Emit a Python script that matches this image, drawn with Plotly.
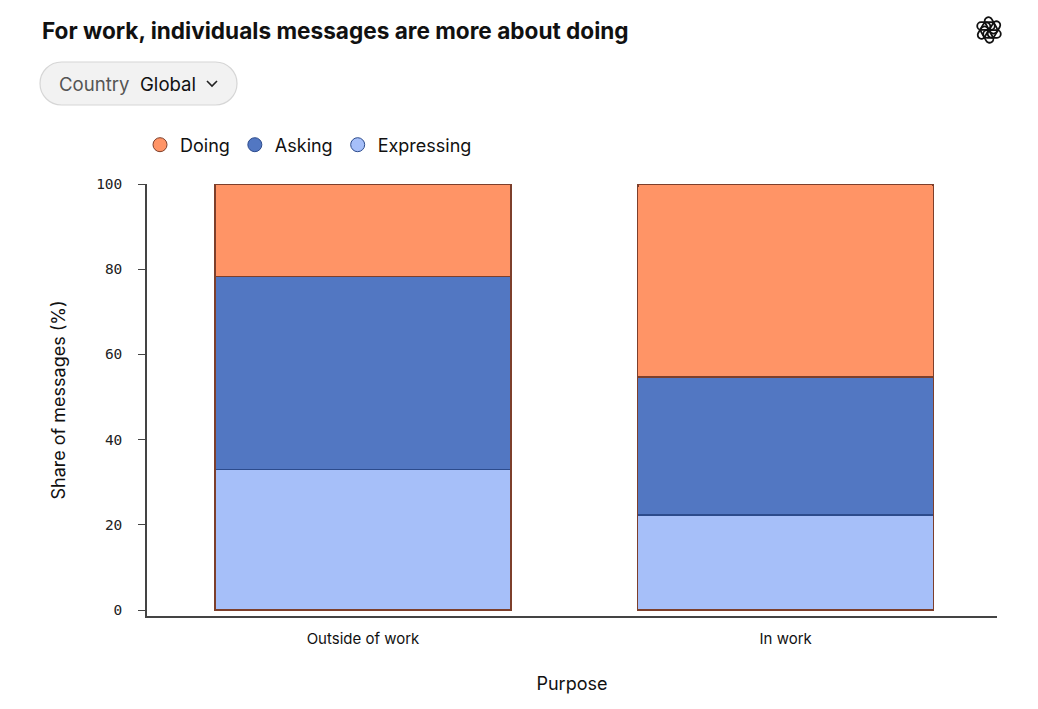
import math
import plotly.graph_objects as go

# data
purposes = ["Outside of work", "In work"]
expressing = [33.0, 22.3]
asking = [45.2, 32.4]
doing = [21.8, 45.3]
totals = [100, 100]
y_ticks = [0, 20, 40, 60, 80, 100]

# the page puts the figure 8px in from the corner, so work in page pixels
OFF = 8
W, H = 1038, 709
L, R, T, B = 139, 49, 176, 101
PW, PH = W - L - R, H - T - B


def px(x):
    return (x - OFF - L) / PW


def py(y):
    return (H - B - (y - OFF)) / PH


ORANGE = "#ff9466"
BLUE = "#5277c2"
LIGHT = "#a6bff9"
BROWN = "#7d3f2b"
NAVY = "#2c4b8c"
FONT = "Inter, Roboto, sans-serif"

fig = go.Figure()

fig.add_trace(go.Bar(x=purposes, y=expressing, name="Expressing", marker=dict(color=LIGHT, line=dict(color=NAVY, width=1)),
                     showlegend=False))
fig.add_trace(go.Bar(x=purposes, y=asking, name="Asking", marker=dict(color=BLUE, line=dict(color=NAVY, width=1.2)),
                     showlegend=False))
fig.add_trace(go.Bar(x=purposes, y=doing, name="Doing", marker=dict(color=ORANGE, line=dict(color=BROWN, width=1.2)),
                     showlegend=False))
# outline around the whole stack
fig.add_trace(go.Bar(x=purposes, y=totals, xaxis="x2", marker=dict(color="rgba(0,0,0,0)", line=dict(color=BROWN, width=1.3),
                     cornerradius=3), showlegend=False, hoverinfo="skip"))

# legend entries as round markers
for name, col, edge in [("Doing", ORANGE, BROWN), ("Asking", BLUE, NAVY), ("Expressing", LIGHT, NAVY)]:
    fig.add_trace(go.Scatter(x=[None], y=[None], mode="markers", name=name,
                             marker=dict(symbol="circle", size=14, color=col, line=dict(color=edge, width=1))))

xrange = [-0.511, 1.5]
fig.update_layout(
    width=W, height=H,
    margin=dict(l=L, r=R, t=T, b=B),
    paper_bgcolor="white", plot_bgcolor="white",
    barmode="stack", bargap=0.3,
    font=dict(family=FONT, color="#111"),
    showlegend=True,
    legend=dict(orientation="h", x=px(140), xanchor="left", y=py(145), yanchor="middle",
                font=dict(size=18, color="#111"), itemwidth=30, traceorder="normal"),
    xaxis=dict(range=xrange, showline=True, linecolor="#444", linewidth=1.5, ticks="", showgrid=False,
               tickfont=dict(size=15, color="#111"), ticklabelstandoff=8,
               title=dict(text="Purpose", font=dict(size=18, color="#111"), standoff=31)),
    xaxis2=dict(overlaying="x", range=xrange, visible=False),
    yaxis=dict(range=[-1.4, 100], showline=True, linecolor="#444", linewidth=1.5, showgrid=False, zeroline=False,
               ticks="outside", ticklen=7, tickcolor="#444", tickwidth=1.3, tickvals=y_ticks,
               tickfont=dict(family="DejaVu Sans Mono, monospace", size=14.5, color="#222"), ticklabelstandoff=13,
               title=dict(text="Share of messages (%)", font=dict(size=18, color="#111"), standoff=26)),
)

# title
fig.add_annotation(xref="paper", yref="paper", x=px(40), y=py(31), xanchor="left", yanchor="middle",
                   text="<b>For work, individuals messages are more about doing</b>", showarrow=False,
                   font=dict(size=22.6, color="#111", family=FONT))

# country selector pill
x0, x1, y0, y1 = 40, 237, 62, 105
r = (y1 - y0) / 2
k = 0.5523 * r
ym = (y0 + y1) / 2
pts = [("M", [(x0 + r, y0)]), ("L", [(x1 - r, y0)]),
       ("C", [(x1 - r + k, y0), (x1, ym - k), (x1, ym)]),
       ("C", [(x1, ym + k), (x1 - r + k, y1), (x1 - r, y1)]),
       ("L", [(x0 + r, y1)]),
       ("C", [(x0 + r - k, y1), (x0, ym + k), (x0, ym)]),
       ("C", [(x0, ym - k), (x0 + r - k, y0), (x0 + r, y0)])]
pill = " ".join(cmd + " " + " ".join(f"{px(a):.5f},{py(b):.5f}" for a, b in p) for cmd, p in pts) + " Z"
fig.add_shape(type="path", xref="paper", yref="paper", path=pill,
              fillcolor="#f2f2f2", line=dict(color="#d6d6d6", width=1.2))
fig.add_annotation(xref="paper", yref="paper", x=px(57), y=py(84), xanchor="left", yanchor="middle",
                   text="Country", showarrow=False, font=dict(size=18.6, color="#555", family=FONT))
fig.add_annotation(xref="paper", yref="paper", x=px(138), y=py(84), xanchor="left", yanchor="middle",
                   text="Global", showarrow=False, font=dict(size=18.6, color="#111", family=FONT))
fig.add_shape(type="path", xref="paper", yref="paper",
              path=f"M {px(207)},{py(81)} L {px(212)},{py(86)} L {px(217)},{py(81)}",
              line=dict(color="#222", width=1.6))

# logo approximation: six capsules in a pinwheel
cx, cy = 989, 30
for i in range(6):
    a = math.radians(i * 60)
    ux, uy = math.cos(a), math.sin(a)
    nx, ny = -uy, ux
    ccx, ccy = cx + 4.0 * nx + 3.0 * ux, cy + 4.0 * ny + 3.0 * uy
    hl, rr = 5.0, 3.8
    kk = 0.5523 * rr
    ax_, ay_ = ccx + hl * ux, ccy + hl * uy
    bx_, by_ = ccx - hl * ux, ccy - hl * uy
    seq = [
        ("M", [(ax_ + rr * nx, ay_ + rr * ny)]),
        ("C", [(ax_ + rr * nx + kk * ux, ay_ + rr * ny + kk * uy), (ax_ + rr * ux + kk * nx, ay_ + rr * uy + kk * ny),
               (ax_ + rr * ux, ay_ + rr * uy)]),
        ("C", [(ax_ + rr * ux - kk * nx, ay_ + rr * uy - kk * ny), (ax_ - rr * nx + kk * ux, ay_ - rr * ny + kk * uy),
               (ax_ - rr * nx, ay_ - rr * ny)]),
        ("L", [(bx_ - rr * nx, by_ - rr * ny)]),
        ("C", [(bx_ - rr * nx - kk * ux, by_ - rr * ny - kk * uy), (bx_ - rr * ux - kk * nx, by_ - rr * uy - kk * ny),
               (bx_ - rr * ux, by_ - rr * uy)]),
        ("C", [(bx_ - rr * ux + kk * nx, by_ - rr * uy + kk * ny), (bx_ + rr * nx - kk * ux, by_ + rr * ny - kk * uy),
               (bx_ + rr * nx, by_ + rr * ny)]),
    ]
    d = " ".join(cmd + " " + " ".join(f"{px(p):.5f},{py(q):.5f}" for p, q in pp) for cmd, pp in seq) + " Z"
    fig.add_shape(type="path", xref="paper", yref="paper", path=d, line=dict(color="#111", width=1.8))

fig.write_html("out.html")
